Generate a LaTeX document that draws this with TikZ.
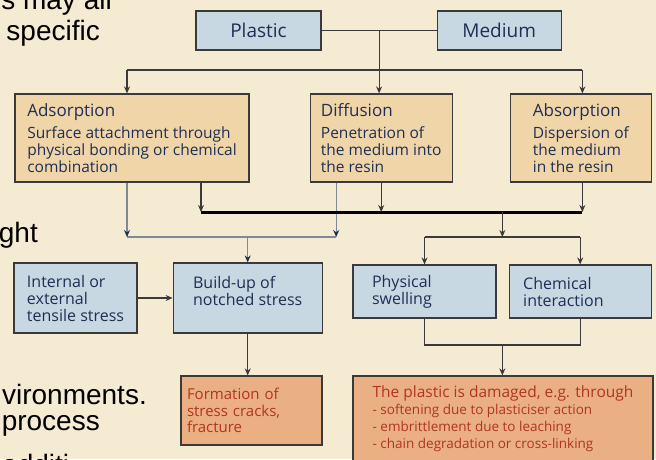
\documentclass[tikz,border=0pt]{standalone}
\usepackage{fontspec}
\setmainfont{Open Sans}
\newfontfamily\slidefont{Liberation Sans}
\usepackage{xcolor}
\usetikzlibrary{positioning,arrows.meta,calc}

\definecolor{bgcream}{HTML}{F5EAD2}
\definecolor{bluefill}{HTML}{C8D8E3}
\definecolor{tanfill}{HTML}{F0D5A8}
\definecolor{salmon}{HTML}{EAB083}
\definecolor{navytext}{HTML}{1E2F55}
\definecolor{redtext}{HTML}{B0351F}
\definecolor{boxline}{HTML}{3A3A3A}
\definecolor{linegray}{HTML}{7E8993}

\newcommand{\headfont}{\fontsize{17}{19}\selectfont}

\begin{document}
\begin{tikzpicture}[x=1pt, y=-1pt,
    box/.style={rectangle, draw=boxline, line width=1.2pt, align=left, inner sep=2pt},
    bluebox/.style={box, fill=bluefill, text=navytext, font=\fontsize{16}{17}\selectfont},
    tanbox/.style={box, fill=tanfill, text=navytext, font=\fontsize{15.5}{17}\selectfont},
    redbox/.style={box, fill=salmon, text=redtext, font=\fontsize{15}{16.5}\selectfont},
    conn/.style={draw=boxline, line width=1.1pt},
    gline/.style={draw=linegray, line width=1.1pt},
    heavy/.style={draw=black, line width=3pt},
    navytip/.style={-{Stealth[length=7pt,width=6pt,color=navytext]}},
    slide/.style={font=\slidefont\fontsize{28}{30}\selectfont, inner sep=0pt},
    >={Stealth[length=7pt,width=6pt]}]
    \useasboundingbox (0,0) rectangle (656,459);
    \clip (0,0) rectangle (656,459);
    \fill[bgcream] (0,0) rectangle (656,459);

    % slide text behind the chart
    \node (frag1) [slide, anchor=base east] at (112,9) {s may all};
    \node (frag2) [slide, anchor=base east] at (100,40) {specific};
    \node (frag3) [slide, anchor=base east] at (38,242) {ght};
    \node (frag4) [slide, anchor=base east] at (147,404) {vironments.};
    \node (frag5) [slide, anchor=base east] at (100,430) {process};
    \node (frag6) [slide, anchor=base west] at (2,474) {additi};

    % nodes
    \node (plastic) [bluebox, minimum width=125pt, minimum height=39pt, font=\fontsize{19}{21}\selectfont] at (258.5,30.5) {Plastic};
    \node (medium) [bluebox, right=115pt of plastic, minimum width=124pt, minimum height=39pt, font=\fontsize{19}{21}\selectfont] {Medium};
    \node (adsorption) [tanbox, minimum width=234pt, minimum height=88pt] at (132,138) {{\headfont Adsorption}\\[5pt] Surface attachment through\\ physical bonding or chemical\\ combination};
    \node (diffusion) [tanbox, right=60pt of adsorption, minimum width=142pt, minimum height=88pt] {{\headfont Diffusion}\\[5pt] Penetration of\\ the medium into\\ the resin};
    \node (absorption) [tanbox, right=57pt of diffusion, minimum width=141pt, minimum height=88pt] {{\headfont Absorption}\\[5pt] Dispersion of\\ the medium\\ in the resin};
    \node (internal) [bluebox, minimum width=123pt, minimum height=70pt] at (75.5,298) {Internal or\\ external\\ tensile stress};
    \node (buildup) [bluebox, right=35pt of internal, minimum width=149pt, minimum height=70pt, text depth=14pt] {Build-up of\\ notched stress};
    \node (physical) [bluebox, minimum width=143pt, minimum height=53pt, inner xsep=19pt, text width=105pt] at (424.5,291.5) {Physical\\ swelling};
    \node (chemical) [bluebox, right=12pt of physical, minimum width=142pt, minimum height=53pt, inner xsep=14pt, text width=114pt] {Chemical\\ interaction};
    \node (formation) [redbox, minimum width=141pt, minimum height=69pt, inner xsep=6pt, text width=129pt] at (251.5,410.5) {Formation of\\ stress cracks,\\ fracture};
    \node (damaged) [redbox, minimum width=300pt, minimum height=86pt, font=\fontsize{15.5}{17}\selectfont] at (503,419) {The plastic is damaged, e.g. through\\ {\fontsize{13.5}{17}\selectfont - softening due to plasticiser action}\\ {\fontsize{13.5}{17}\selectfont - embrittlement due to leaching}\\ {\fontsize{13.5}{17}\selectfont - chain degradation or cross-linking}};

    % rows and ports
    \coordinate (row1) at (0,70);
    \coordinate (row2) at (0,212);
    \coordinate (row3) at (0,237);
    \coordinate (row4) at (0,345);
    \coordinate (mix) at ($(plastic.east)!0.5!(medium.west)$);
    \coordinate (adsL) at ([xshift=-5pt]adsorption.south);
    \coordinate (adsR) at ([xshift=69pt]adsorption.south);
    \coordinate (difL) at ([xshift=-45pt]diffusion.south);
    \coordinate (absB) at ([xshift=1.5pt]absorption.south);
    \coordinate (mid) at ($(physical.north)!0.5!(chemical.north)$);

    % connections
    \draw [conn] (plastic) -- (medium);
    \draw [conn, ->] (mix) -- (mix |- diffusion.north);
    \draw [conn] (adsL |- row1) -- (absB |- row1);
    \draw [conn, ->] (adsL |- row1) -- (adsL |- adsorption.north);
    \draw [conn, ->] (absB |- row1) -- (absB |- absorption.north);

    \draw [gline] (adsL |- row3) -- (difL |- row3);
    \draw [gline, navytip] (adsL) -- (adsL |- row3);
    \draw [gline, navytip] (difL) -- (difL |- row3);
    \draw [gline, navytip] (buildup.north |- row3) -- (buildup.north);

    \draw [heavy] (adsR |- row2) -- (absB |- row2);
    \draw [conn, ->] (adsR) -- (adsR |- row2);
    \draw [conn, ->] (diffusion.south) -- (diffusion.south |- row2);
    \draw [conn, ->] (absB) -- (absB |- row2);
    \draw [conn, ->] (mid |- row2) -- (mid |- row3);
    \draw [conn] (physical.north |- row3) -- (chemical.north |- row3);
    \draw [conn, ->] (physical.north |- row3) -- (physical.north);
    \draw [conn, ->] (chemical.north |- row3) -- (chemical.north);

    \draw [conn, ->] (internal) -- (buildup);
    \draw [conn, ->] (buildup.south) -- (buildup.south |- formation.north);
    \draw [conn] (physical.south) -- (physical.south |- row4) -- (chemical.south |- row4) -- (chemical.south);
    \draw [conn, ->] (mid |- row4) -- (mid |- damaged.north);
\end{tikzpicture}
\end{document}
